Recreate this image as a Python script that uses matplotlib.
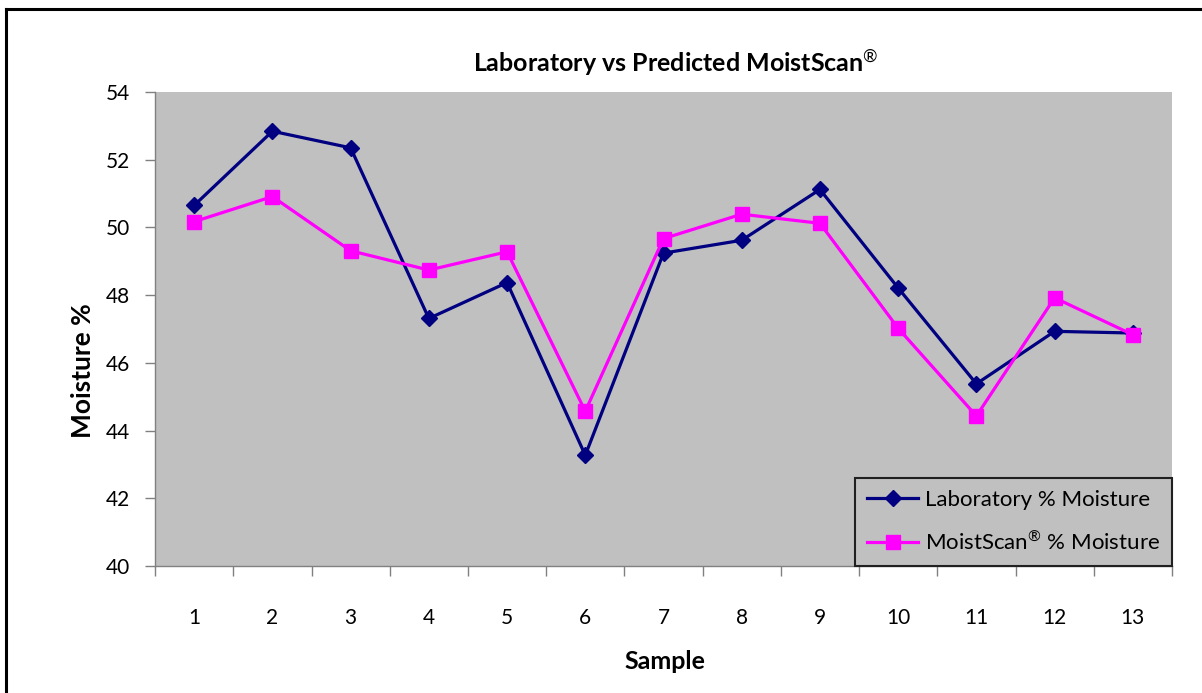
# -*- coding: utf-8 -*-
"""
Laboratory vs Predicted MoistScan - line chart
"""
import matplotlib
matplotlib.use('Agg')
import matplotlib.pyplot as plt
from matplotlib.lines import Line2D

plt.rcParams['font.family'] = ['Lato', 'DejaVu Sans']
plt.rcParams['mathtext.fontset'] = 'custom'
plt.rcParams['mathtext.rm'] = 'Lato'
plt.rcParams['mathtext.bf'] = 'Lato:bold'

# data
samples = list(range(1, 14))
sample_labels = [str(s) for s in samples]
lab_moisture = [50.65, 52.84, 52.35, 47.31, 48.37, 43.27, 49.24,
                49.62, 51.12, 48.21, 45.38, 46.93, 46.88]
moistscan_moisture = [50.17, 50.91, 49.31, 48.74, 49.28, 44.57, 49.67,
                      50.39, 50.12, 47.02, 44.43, 47.92, 46.83]
y_ticks = [40, 42, 44, 46, 48, 50, 52, 54]

fig = plt.figure(figsize=(12.02, 6.93), dpi=100)
ax = fig.add_axes([0.129, 0.1833, 0.846, 0.684])
ax.set_facecolor('#C0C0C0')

ax.plot(samples, lab_moisture, color='#000080', linewidth=2.3,
        marker='D', markersize=8.5, label='Laboratory % Moisture', zorder=3)
ax.plot(samples, moistscan_moisture, color='#FF00FF', linewidth=2.3,
        marker='s', markersize=10, label='MoistScan$^{®}$ % Moisture', zorder=3)

# 坐标轴
ax.set_xlim(0.5, 13.5)
ax.set_ylim(40, 54)
ax.set_yticks(y_ticks)
ax.set_xticks(samples)
ax.set_xticklabels(sample_labels)
ax.set_xticks([s - 0.5 for s in samples] + [13.5], minor=True)
ax.tick_params(axis='x', which='major', length=0, pad=30, labelsize=15)
ax.tick_params(axis='x', which='minor', length=7, width=1, color='#808080')
ax.tick_params(axis='y', length=7, width=1, color='#808080', pad=11, labelsize=15)

for side in ['top', 'right']:
    ax.spines[side].set_visible(False)
for side in ['left', 'bottom']:
    ax.spines[side].set_color('#808080')
    ax.spines[side].set_linewidth(1)

# 标题和标签
fig.text(0.5624, 0.909, 'Laboratory vs Predicted MoistScan$^{®}$',
         ha='center', va='center', fontsize=18, fontweight='bold')
fig.text(0.069, 0.465, 'Moisture %', rotation=90, ha='center', va='center',
         fontsize=19, fontweight='bold')
fig.text(0.553, 0.046, 'Sample', ha='center', va='center',
         fontsize=18, fontweight='bold')

leg = ax.legend(loc='lower right', bbox_to_anchor=(1.0, 0.0), fontsize=16,
                frameon=True, fancybox=False, framealpha=1, facecolor='#C0C0C0',
                edgecolor='#202020', borderpad=0.55, labelspacing=0.9,
                handlelength=2.3, handletextpad=0.3, borderaxespad=0)
leg.get_frame().set_linewidth(1.5)

# 外框
fig.add_artist(Line2D([0.005, 0.005], [0.0, 0.987], color='black', linewidth=2.2))
fig.add_artist(Line2D([0.005, 1.0], [0.987, 0.987], color='black', linewidth=2.2))

plt.savefig('out.png', dpi=100)
plt.close(fig)
